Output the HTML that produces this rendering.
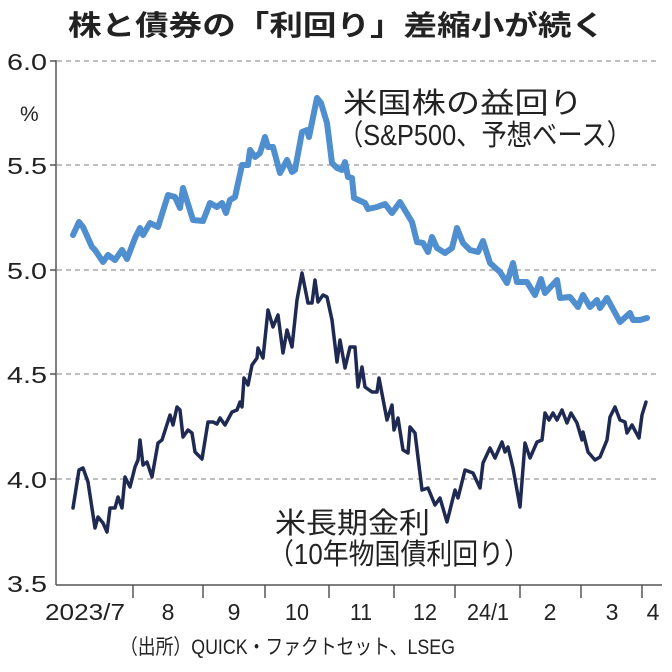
<!DOCTYPE html>
<html><head><meta charset="utf-8"><style>
html,body{margin:0;padding:0;background:#fff;}
svg{display:block;font-family:"Liberation Sans","Noto Sans CJK JP",sans-serif;}
</style></head><body>
<svg width="672" height="672" viewBox="0 0 672 672">
<text x="68" y="35" font-size="28" font-weight="bold" fill="#222" textLength="537" lengthAdjust="spacingAndGlyphs">株と債券の「利回り」差縮小が続く</text>
<g stroke="#999" stroke-width="1.2" stroke-dasharray="5,4">
<line x1="57" y1="61" x2="660" y2="61"/>
<line x1="57" y1="165" x2="660" y2="165"/>
<line x1="57" y1="270" x2="660" y2="270"/>
<line x1="57" y1="374" x2="660" y2="374"/>
<line x1="57" y1="479" x2="660" y2="479"/>
</g>
<g stroke="#555" stroke-width="1.5">
<line x1="56" y1="60" x2="56" y2="585"/>
<line x1="56" y1="585" x2="662" y2="585"/>
<line x1="50" y1="61" x2="56" y2="61"/><line x1="50" y1="165" x2="56" y2="165"/><line x1="50" y1="270" x2="56" y2="270"/><line x1="50" y1="374" x2="56" y2="374"/><line x1="50" y1="479" x2="56" y2="479"/>
<line x1="133" y1="585" x2="133" y2="598"/><line x1="203" y1="585" x2="203" y2="598"/><line x1="265" y1="585" x2="265" y2="598"/><line x1="329" y1="585" x2="329" y2="598"/><line x1="394" y1="585" x2="394" y2="598"/><line x1="455" y1="585" x2="455" y2="598"/><line x1="520" y1="585" x2="520" y2="598"/><line x1="581" y1="585" x2="581" y2="598"/><line x1="642" y1="585" x2="642" y2="598"/>
</g>
<g font-size="23" fill="#222" text-anchor="end">
<text x="47" y="70" textLength="40" lengthAdjust="spacingAndGlyphs">6.0</text><text x="47" y="174" textLength="40" lengthAdjust="spacingAndGlyphs">5.5</text><text x="47" y="279" textLength="40" lengthAdjust="spacingAndGlyphs">5.0</text><text x="47" y="383" textLength="40" lengthAdjust="spacingAndGlyphs">4.5</text><text x="47" y="488" textLength="40" lengthAdjust="spacingAndGlyphs">4.0</text><text x="47" y="592" textLength="40" lengthAdjust="spacingAndGlyphs">3.5</text>
</g>
<text x="20" y="121" font-size="21" fill="#222">%</text>
<g font-size="23" fill="#222" text-anchor="middle">
<text x="85" y="620" textLength="80" lengthAdjust="spacingAndGlyphs">2023/7</text>
<text x="168" y="620">8</text><text x="234" y="620">9</text>
<text x="297" y="620" textLength="24" lengthAdjust="spacingAndGlyphs">10</text>
<text x="361" y="620" textLength="22" lengthAdjust="spacingAndGlyphs">11</text>
<text x="425" y="620" textLength="24" lengthAdjust="spacingAndGlyphs">12</text>
<text x="488" y="620" textLength="42" lengthAdjust="spacingAndGlyphs">24/1</text>
<text x="550" y="620">2</text><text x="612" y="620">3</text><text x="653" y="620">4</text>
</g>
<text x="120" y="654" font-size="21" fill="#222" textLength="335" lengthAdjust="spacingAndGlyphs">（出所）QUICK・ファクトセット、LSEG</text>
<text x="343" y="113" font-size="29" fill="#222" textLength="240" lengthAdjust="spacingAndGlyphs">米国株の益回り</text>
<text x="338" y="145" font-size="29" fill="#222" textLength="294" lengthAdjust="spacingAndGlyphs">（S&amp;P500、予想ベース）</text>
<text x="275" y="533" font-size="29" fill="#222" textLength="155" lengthAdjust="spacingAndGlyphs">米長期金利</text>
<text x="268" y="564" font-size="29" fill="#222" textLength="262" lengthAdjust="spacingAndGlyphs">（10年物国債利回り）</text>
<polyline fill="none" stroke="#4f8ecf" stroke-width="6" stroke-linejoin="round" stroke-linecap="round" points="73,235 79,222 83,227 92,247 95,250 103,262 108,255 115,260 122,250 127,259 135,238 140,228 143,235 150,223 158,227 168,195 175,197 180,208 183,188 193,220 203,221 210,203 217,207 222,203 226,213 230,200 235,197 242,165 248,165 250,150 255,157 260,153 265,137 268,147 273,147 280,173 287,160 292,172 295,170 302,132 307,130 309,137 317,98 321,103 327,123 332,163 337,168 342,170 345,162 348,177 352,178 354,198 365,203 368,209 377,207 385,204 392,213 400,202 412,222 417,242 423,243 428,252 432,237 437,248 445,253 452,248 457,228 463,243 470,250 478,252 483,241 490,263 500,272 507,283 513,263 517,282 527,282 535,295 541,279 545,293 557,280 560,298 570,297 578,307 583,295 590,307 597,300 600,308 607,298 620,322 630,313 633,320 640,320 647,318"/>
<polyline fill="none" stroke="#1f2a52" stroke-width="3.5" stroke-linejoin="round" stroke-linecap="round" points="73,508 79,470 83,468 88,482 95,528 98,517 103,523 107,532 110,508 115,508 118,497 122,508 125,477 130,487 135,467 138,460 140,440 143,465 147,462 152,477 158,443 162,440 170,415 173,425 177,407 180,410 183,437 188,430 192,433 195,452 202,459 208,422 213,422 217,424 220,418 225,425 232,412 237,410 240,402 242,407 244,378 248,385 252,365 257,358 258,348 263,358 268,310 273,327 278,315 283,353 287,330 292,347 297,300 302,273 308,303 312,303 315,280 318,302 323,295 327,297 332,320 337,362 340,340 345,368 350,347 355,347 358,387 362,367 365,387 372,392 377,392 379,378 387,420 392,405 394,430 398,418 403,450 408,453 410,427 415,433 422,490 428,488 435,505 440,498 447,522 455,490 458,498 465,470 473,473 480,488 483,463 490,448 495,458 502,442 505,452 508,447 513,468 520,507 525,443 530,458 537,442 542,440 545,413 549,420 553,413 557,420 562,410 567,423 571,413 577,423 582,440 583,432 588,452 595,460 600,457 607,440 610,417 615,407 620,420 625,422 627,433 632,425 639,438 642,415 646,402"/>
</svg>
</body></html>
